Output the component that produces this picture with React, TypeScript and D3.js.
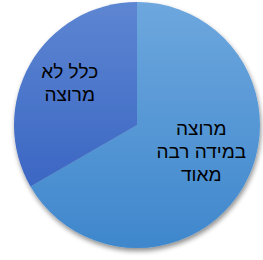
import React from "react";
import * as d3 from "d3";

const categories = ["מרוצה במידה רבה מאוד", "כלל לא מרוצה"];
const values = [2, 1];
const labelLines = [["מרוצה", "במידה רבה", "מאוד"], ["כלל לא", "מרוצה"]];

const W = 263, H = 260;
const cx = 137, cy = 125, R = 123;

export default function App() {
  const pie = d3.pie<number>().sort(null).value((d) => d)(values);
  const arc = d3.arc<d3.PieArcDatum<number>>().innerRadius(0).outerRadius(R);
  const labelArc = d3.arc<d3.PieArcDatum<number>>().innerRadius(R * 0.66).outerRadius(R * 0.66);
  const fills = ["url(#g0)", "url(#g1)"];
  const labelOffsets = [[-6, -14], [3, -1]];
  const lh = 23;
  return (
    <svg width={W} height={H} style={{ position: "absolute", left: 0, top: 0 }}>
      <defs>
        <linearGradient id="g0" x1="0" y1={-R} x2="0" y2={R} gradientUnits="userSpaceOnUse">
          <stop offset="0" stopColor="#6DA7DE" />
          <stop offset="1" stopColor="#3F87CC" />
        </linearGradient>
        <linearGradient id="g1" x1="0" y1={-R} x2="0" y2={R} gradientUnits="userSpaceOnUse">
          <stop offset="0" stopColor="#5D86D2" />
          <stop offset="1" stopColor="#305CBE" />
        </linearGradient>
        <filter id="sh" x="-20%" y="-20%" width="140%" height="140%">
          <feGaussianBlur in="SourceAlpha" stdDeviation="2.5" />
          <feOffset dx="1" dy="3" result="b" />
          <feComponentTransfer><feFuncA type="linear" slope="0.45" /></feComponentTransfer>
          <feMerge><feMergeNode /><feMergeNode in="SourceGraphic" /></feMerge>
        </filter>
      </defs>
      <g transform={`translate(${cx},${cy})`}>
        <g filter="url(#sh)">
          {pie.map((p, i) => (
            <path key={categories[i]} d={arc(p) || ""} fill={fills[i]} />
          ))}
        </g>
        {pie.map((p, i) => {
          const [lx, ly] = labelArc.centroid(p);
          const lines = labelLines[i];
          const x = lx + labelOffsets[i][0];
          const y0 = ly + labelOffsets[i][1] - ((lines.length - 1) * lh) / 2 + 6;
          return (
            <text key={"t" + i} textAnchor="middle" direction="rtl"
              fontFamily="Liberation Sans, Arial, sans-serif" fontSize={19} fill="#000">
              {lines.map((l, j) => (
                <tspan key={j} x={x} y={y0 + j * lh}>{l}</tspan>
              ))}
            </text>
          );
        })}
      </g>
    </svg>
  );
}
